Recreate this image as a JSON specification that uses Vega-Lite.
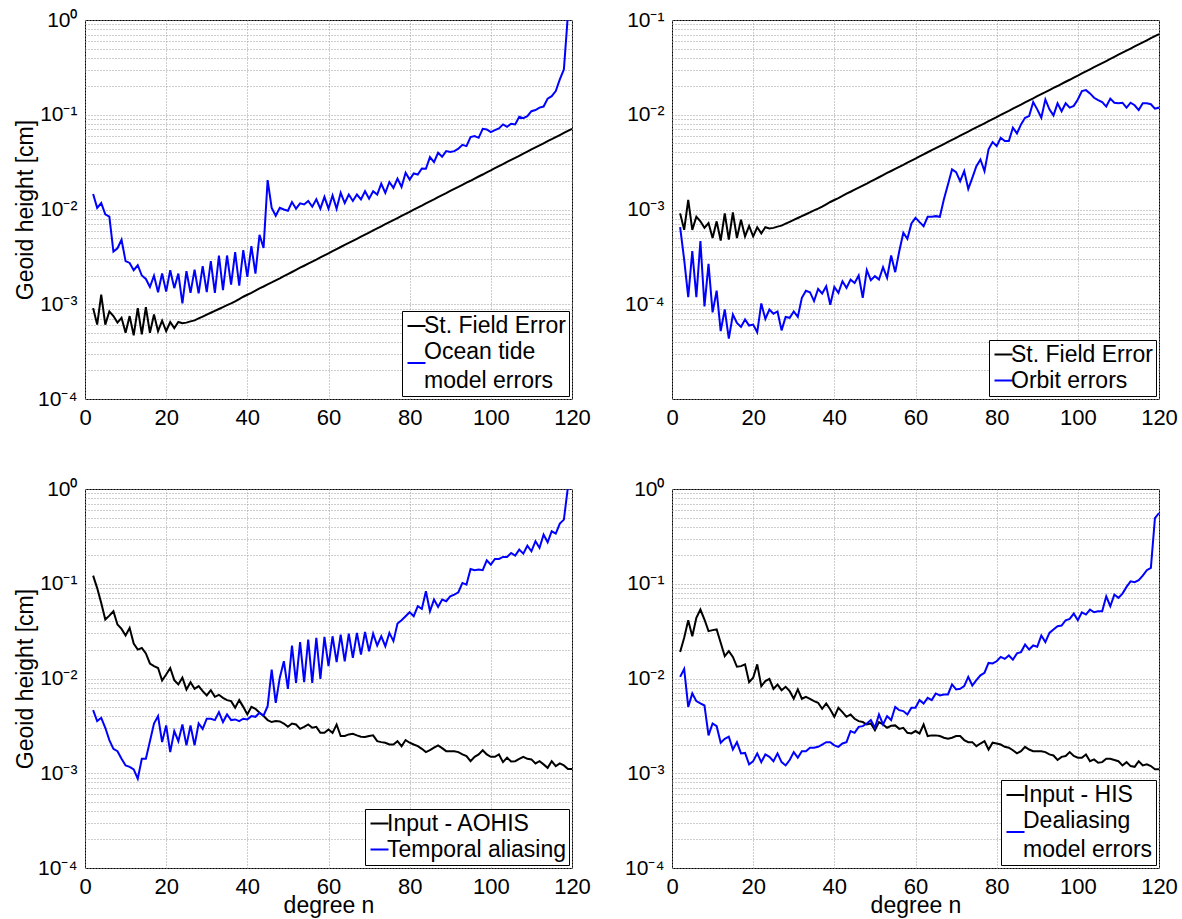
{
  "$schema": "https://vega.github.io/schema/vega-lite/v6.json",
  "padding": {"left": 14, "top": 8, "right": 0, "bottom": 0},
  "bounds": "flush",
  "columns": 2,
  "spacing": {"row": 90, "column": 100},
  "datasets": {
    "p1": [
      {"n":2,"k":9.1e-4,"b":1.46e-2},{"n":3,"k":6.1e-4,"b":1.04e-2},{"n":4,"k":1.26e-3,"b":1.17e-2},{"n":5,"k":6.1e-4,"b":8.9e-3},{"n":6,"k":8.4e-4,"b":8.4e-3},
      {"n":7,"k":7.5e-4,"b":3.6e-3},{"n":8,"k":6.4e-4,"b":3.9e-3},{"n":9,"k":7.2e-4,"b":4.8e-3},{"n":10,"k":5.0e-4,"b":2.85e-3},{"n":11,"k":7.5e-4,"b":2.73e-3},
      {"n":12,"k":4.7e-4,"b":2.29e-3},{"n":13,"k":9.1e-4,"b":2.58e-3},{"n":14,"k":4.8e-4,"b":2.01e-3},{"n":15,"k":9.3e-4,"b":1.85e-3},{"n":16,"k":5.0e-4,"b":1.52e-3},
      {"n":17,"k":7.8e-4,"b":2.0e-3},{"n":18,"k":5.2e-4,"b":1.34e-3},{"n":19,"k":6.7e-4,"b":2.11e-3},{"n":20,"k":5.2e-4,"b":1.36e-3},{"n":21,"k":6.5e-4,"b":2.29e-3},
      {"n":22,"k":5.6e-4,"b":1.48e-3},{"n":23,"k":6.5e-4,"b":2.11e-3},{"n":24,"k":6.3e-4,"b":1.02e-3},{"n":25,"k":6.4e-4,"b":2.24e-3},{"n":26,"k":6.6e-4,"b":1.32e-3},
      {"n":27,"k":6.76e-4,"b":2.32e-3},{"n":28,"k":7.08e-4,"b":1.30e-3},{"n":29,"k":7.41e-4,"b":2.52e-3},{"n":30,"k":7.76e-4,"b":1.34e-3},{"n":31,"k":8.13e-4,"b":2.85e-3},
      {"n":32,"k":8.51e-4,"b":1.32e-3},{"n":33,"k":8.91e-4,"b":3.27e-3},{"n":34,"k":9.33e-4,"b":1.41e-3},{"n":35,"k":9.77e-4,"b":3.27e-3},{"n":36,"k":1.02e-3,"b":1.61e-3},
      {"n":37,"k":1.07e-3,"b":3.54e-3},{"n":38,"k":1.135e-3,"b":1.57e-3},{"n":39,"k":1.20e-3,"b":3.72e-3},{"n":40,"k":1.26e-3,"b":1.95e-3},{"n":41,"k":1.32e-3,"b":4.10e-3},
      {"n":42,"k":1.39e-3,"b":2.11e-3},{"n":43,"k":1.47e-3,"b":5.40e-3},{"n":44,"k":1.54e-3,"b":3.94e-3},{"n":45,"k":1.62e-3,"b":2.04e-2},{"n":46,"k":1.70e-3,"b":1.04e-2},
      {"n":47,"k":1.79e-3,"b":8.6e-3},{"n":48,"k":1.88e-3,"b":1.04e-2},{"n":49,"k":1.98e-3,"b":1.0e-2},{"n":50,"k":2.08e-3,"b":9.7e-3},{"n":51,"k":2.19e-3,"b":1.20e-2},
      {"n":52,"k":2.31e-3,"b":1.02e-2},{"n":53,"k":2.43e-3,"b":1.16e-2},{"n":54,"k":2.55e-3,"b":1.13e-2},{"n":55,"k":2.68e-3,"b":1.23e-2},{"n":56,"k":2.82e-3,"b":1.07e-2},
      {"n":57,"k":2.96e-3,"b":1.28e-2},{"n":58,"k":3.12e-3,"b":1.02e-2},{"n":59,"k":3.28e-3,"b":1.36e-2},{"n":60,"k":3.45e-3,"b":1.02e-2},{"n":61,"k":3.63e-3,"b":1.41e-2},
      {"n":62,"k":3.82e-3,"b":1.02e-2},{"n":63,"k":4.02e-3,"b":1.50e-2},{"n":64,"k":4.23e-3,"b":1.17e-2},{"n":65,"k":4.44e-3,"b":1.44e-2},{"n":66,"k":4.67e-3,"b":1.23e-2},
      {"n":67,"k":4.91e-3,"b":1.44e-2},{"n":68,"k":5.16e-3,"b":1.28e-2},{"n":69,"k":5.43e-3,"b":1.56e-2},{"n":70,"k":5.71e-3,"b":1.30e-2},{"n":71,"k":6.01e-3,"b":1.56e-2},
      {"n":72,"k":6.32e-3,"b":1.44e-2},{"n":73,"k":6.65e-3,"b":1.87e-2},{"n":74,"k":7.00e-3,"b":1.50e-2},{"n":75,"k":7.35e-3,"b":1.95e-2},{"n":76,"k":7.73e-3,"b":1.69e-2},
      {"n":77,"k":8.13e-3,"b":2.12e-2},{"n":78,"k":8.55e-3,"b":1.73e-2},{"n":79,"k":8.99e-3,"b":2.44e-2},{"n":80,"k":9.46e-3,"b":2.07e-2},{"n":81,"k":9.95e-3,"b":2.40e-2},
      {"n":82,"k":1.047e-2,"b":2.34e-2},{"n":83,"k":1.10e-2,"b":2.71e-2},{"n":84,"k":1.16e-2,"b":2.69e-2},{"n":85,"k":1.22e-2,"b":3.57e-2},{"n":86,"k":1.28e-2,"b":3.16e-2},
      {"n":87,"k":1.35e-2,"b":3.97e-2},{"n":88,"k":1.42e-2,"b":3.60e-2},{"n":89,"k":1.49e-2,"b":4.13e-2},{"n":90,"k":1.57e-2,"b":4.04e-2},{"n":91,"k":1.65e-2,"b":4.13e-2},
      {"n":92,"k":1.73e-2,"b":4.38e-2},{"n":93,"k":1.82e-2,"b":4.82e-2},{"n":94,"k":1.92e-2,"b":4.67e-2},{"n":95,"k":2.01e-2,"b":5.81e-2},{"n":96,"k":2.12e-2,"b":5.96e-2},
      {"n":97,"k":2.23e-2,"b":5.71e-2},{"n":98,"k":2.34e-2,"b":7.11e-2},{"n":99,"k":2.47e-2,"b":7.0e-2},{"n":100,"k":2.59e-2,"b":6.56e-2},{"n":101,"k":2.73e-2,"b":6.89e-2},
      {"n":102,"k":2.87e-2,"b":7.18e-2},{"n":103,"k":3.02e-2,"b":7.91e-2},{"n":104,"k":3.18e-2,"b":7.46e-2},{"n":105,"k":3.34e-2,"b":8.04e-2},{"n":106,"k":3.51e-2,"b":7.91e-2},
      {"n":107,"k":3.69e-2,"b":9.53e-2},{"n":108,"k":3.88e-2,"b":9.22e-2},{"n":109,"k":4.08e-2,"b":9.68e-2},{"n":110,"k":4.30e-2,"b":0.109},{"n":111,"k":4.52e-2,"b":0.112},
      {"n":112,"k":4.75e-2,"b":0.119},{"n":113,"k":5.00e-2,"b":0.122},{"n":114,"k":5.26e-2,"b":0.148},{"n":115,"k":5.52e-2,"b":0.157},{"n":116,"k":5.81e-2,"b":0.178},
      {"n":117,"k":6.11e-2,"b":0.236},{"n":118,"k":6.43e-2,"b":0.301},{"n":119,"k":6.76e-2,"b":1.15},{"n":120,"k":7.11e-2,"b":2.5}
    ],
    "p2": [
      {"n":2,"k":9.1e-4,"b":6.5e-4},{"n":3,"k":6.1e-4,"b":2.96e-4},{"n":4,"k":1.26e-3,"b":1.19e-4},{"n":5,"k":6.1e-4,"b":3.63e-4},{"n":6,"k":8.4e-4,"b":1.19e-4},
      {"n":7,"k":7.5e-4,"b":4.63e-4},{"n":8,"k":6.4e-4,"b":9.5e-5},{"n":9,"k":7.2e-4,"b":2.67e-4},{"n":10,"k":5.0e-4,"b":8.2e-5},{"n":11,"k":7.5e-4,"b":1.39e-4},
      {"n":12,"k":4.7e-4,"b":5.2e-5},{"n":13,"k":9.1e-4,"b":8.8e-5},{"n":14,"k":4.8e-4,"b":4.34e-5},{"n":15,"k":9.3e-4,"b":7.8e-5},{"n":16,"k":5.0e-4,"b":6.35e-5},
      {"n":17,"k":7.8e-4,"b":5.77e-5},{"n":18,"k":5.2e-4,"b":6.9e-5},{"n":19,"k":6.7e-4,"b":5.96e-5},{"n":20,"k":5.2e-4,"b":6.1e-5},{"n":21,"k":6.5e-4,"b":5.06e-5},
      {"n":22,"k":5.6e-4,"b":1.02e-4},{"n":23,"k":6.5e-4,"b":7.0e-5},{"n":24,"k":6.3e-4,"b":8.8e-5},{"n":25,"k":6.4e-4,"b":7.96e-5},{"n":26,"k":6.6e-4,"b":8.4e-5},
      {"n":27,"k":6.76e-4,"b":5.3e-5},{"n":28,"k":7.08e-4,"b":7.35e-5},{"n":29,"k":7.41e-4,"b":7.2e-5},{"n":30,"k":7.76e-4,"b":8.4e-5},{"n":31,"k":8.13e-4,"b":7.35e-5},
      {"n":32,"k":8.51e-4,"b":1.17e-4},{"n":33,"k":8.91e-4,"b":1.39e-4},{"n":34,"k":9.33e-4,"b":1.34e-4},{"n":35,"k":9.77e-4,"b":1.08e-4},{"n":36,"k":1.02e-3,"b":1.45e-4},
      {"n":37,"k":1.07e-3,"b":1.30e-4},{"n":38,"k":1.135e-3,"b":1.55e-4},{"n":39,"k":1.20e-3,"b":9.9e-5},{"n":40,"k":1.26e-3,"b":1.52e-4},{"n":41,"k":1.32e-3,"b":1.32e-4},
      {"n":42,"k":1.39e-3,"b":1.75e-4},{"n":43,"k":1.47e-3,"b":1.49e-4},{"n":44,"k":1.54e-3,"b":1.82e-4},{"n":45,"k":1.62e-3,"b":1.68e-4},{"n":46,"k":1.70e-3,"b":2.01e-4},
      {"n":47,"k":1.79e-3,"b":1.17e-4},{"n":48,"k":1.88e-3,"b":2.29e-4},{"n":49,"k":1.98e-3,"b":1.79e-4},{"n":50,"k":2.08e-3,"b":1.98e-4},{"n":51,"k":2.19e-3,"b":1.82e-4},
      {"n":52,"k":2.31e-3,"b":2.46e-4},{"n":53,"k":2.43e-3,"b":1.90e-4},{"n":54,"k":2.55e-3,"b":3.27e-4},{"n":55,"k":2.68e-3,"b":2.18e-4},{"n":56,"k":2.82e-3,"b":3.63e-4},
      {"n":57,"k":2.96e-3,"b":5.68e-4},{"n":58,"k":3.12e-3,"b":4.9e-4},{"n":59,"k":3.28e-3,"b":7.11e-4},{"n":60,"k":3.45e-3,"b":8.17e-4},{"n":61,"k":3.63e-3,"b":7.35e-4},
      {"n":62,"k":3.82e-3,"b":6.67e-4},{"n":63,"k":4.02e-3,"b":8.37e-4},{"n":64,"k":4.23e-3,"b":8.37e-4},{"n":65,"k":4.44e-3,"b":8.51e-4},{"n":66,"k":4.67e-3,"b":8.37e-4},
      {"n":67,"k":4.91e-3,"b":1.28e-3},{"n":68,"k":5.16e-3,"b":1.84e-3},{"n":69,"k":5.43e-3,"b":2.65e-3},{"n":70,"k":5.71e-3,"b":2.48e-3},{"n":71,"k":6.01e-3,"b":1.99e-3},
      {"n":72,"k":6.32e-3,"b":2.54e-3},{"n":73,"k":6.65e-3,"b":1.65e-3},{"n":74,"k":7.00e-3,"b":2.16e-3},{"n":75,"k":7.35e-3,"b":2.87e-3},{"n":76,"k":7.73e-3,"b":3.37e-3},
      {"n":77,"k":8.13e-3,"b":2.54e-3},{"n":78,"k":8.55e-3,"b":4.31e-3},{"n":79,"k":8.99e-3,"b":5.14e-3},{"n":80,"k":9.46e-3,"b":4.67e-3},{"n":81,"k":9.95e-3,"b":5.71e-3},
      {"n":82,"k":1.047e-2,"b":5.27e-3},{"n":83,"k":1.10e-2,"b":5.27e-3},{"n":84,"k":1.16e-2,"b":7.29e-3},{"n":85,"k":1.22e-2,"b":6.35e-3},{"n":86,"k":1.28e-2,"b":7.91e-3},
      {"n":87,"k":1.35e-2,"b":9.29e-3},{"n":88,"k":1.42e-2,"b":9.68e-3},{"n":89,"k":1.49e-2,"b":1.36e-2},{"n":90,"k":1.57e-2,"b":1.14e-2},{"n":91,"k":1.65e-2,"b":9.29e-3},
      {"n":92,"k":1.73e-2,"b":1.45e-2},{"n":93,"k":1.82e-2,"b":1.14e-2},{"n":94,"k":1.92e-2,"b":9.84e-3},{"n":95,"k":2.01e-2,"b":1.32e-2},{"n":96,"k":2.12e-2,"b":1.09e-2},
      {"n":97,"k":2.23e-2,"b":1.32e-2},{"n":98,"k":2.34e-2,"b":1.19e-2},{"n":99,"k":2.47e-2,"b":1.24e-2},{"n":100,"k":2.59e-2,"b":1.45e-2},{"n":101,"k":2.73e-2,"b":1.78e-2},
      {"n":102,"k":2.87e-2,"b":1.82e-2},{"n":103,"k":3.02e-2,"b":1.68e-2},{"n":104,"k":3.18e-2,"b":1.51e-2},{"n":105,"k":3.34e-2,"b":1.43e-2},{"n":106,"k":3.51e-2,"b":1.36e-2},
      {"n":107,"k":3.69e-2,"b":1.22e-2},{"n":108,"k":3.88e-2,"b":1.48e-2},{"n":109,"k":4.08e-2,"b":1.34e-2},{"n":110,"k":4.30e-2,"b":1.32e-2},{"n":111,"k":4.52e-2,"b":1.34e-2},
      {"n":112,"k":4.75e-2,"b":1.19e-2},{"n":113,"k":5.00e-2,"b":1.34e-2},{"n":114,"k":5.26e-2,"b":1.26e-2},{"n":115,"k":5.52e-2,"b":1.12e-2},{"n":116,"k":5.81e-2,"b":1.32e-2},
      {"n":117,"k":6.11e-2,"b":1.32e-2},{"n":118,"k":6.43e-2,"b":1.29e-2},{"n":119,"k":6.76e-2,"b":1.16e-2},{"n":120,"k":7.11e-2,"b":1.19e-2}
    ],
    "p3": [
      {"n":2,"k":0.122,"b":4.63e-3},{"n":3,"k":9.0e-2,"b":3.55e-3},{"n":4,"k":6.28e-2,"b":3.85e-3},{"n":5,"k":4.19e-2,"b":3.02e-3},{"n":6,"k":4.61e-2,"b":2.24e-3},
      {"n":7,"k":5.13e-2,"b":1.81e-3},{"n":8,"k":3.71e-2,"b":1.71e-3},{"n":9,"k":3.34e-2,"b":1.42e-3},{"n":10,"k":2.84e-2,"b":1.21e-3},{"n":11,"k":3.42e-2,"b":1.17e-3},
      {"n":12,"k":2.34e-2,"b":1.10e-3},{"n":13,"k":2.02e-2,"b":8.75e-4},{"n":14,"k":2.10e-2,"b":1.42e-3},{"n":15,"k":1.84e-2,"b":1.42e-3},{"n":16,"k":1.44e-2,"b":2.18e-3},
      {"n":17,"k":1.35e-2,"b":3.35e-3},{"n":18,"k":1.29e-2,"b":4.01e-3},{"n":19,"k":9.52e-3,"b":2.13e-3},{"n":20,"k":1.10e-2,"b":3.19e-3},{"n":21,"k":1.29e-2,"b":1.67e-3},
      {"n":22,"k":9.6e-3,"b":2.79e-3},{"n":23,"k":8.65e-3,"b":2.18e-3},{"n":24,"k":1.02e-2,"b":3.27e-3},{"n":25,"k":7.66e-3,"b":1.97e-3},{"n":26,"k":9.15e-3,"b":3.19e-3},
      {"n":27,"k":7.78e-3,"b":1.97e-3},{"n":28,"k":8.3e-3,"b":3.35e-3},{"n":29,"k":7.35e-3,"b":2.94e-3},{"n":30,"k":6.62e-3,"b":3.76e-3},{"n":31,"k":7.53e-3,"b":3.76e-3},
      {"n":32,"k":6.41e-3,"b":3.64e-3},{"n":33,"k":6.73e-3,"b":4.42e-3},{"n":34,"k":6.25e-3,"b":3.47e-3},{"n":35,"k":5.91e-3,"b":4.17e-3},{"n":36,"k":5.77e-3,"b":3.64e-3},
      {"n":37,"k":4.91e-3,"b":3.70e-3},{"n":38,"k":5.91e-3,"b":3.55e-3},{"n":39,"k":5.02e-3,"b":3.76e-3},{"n":40,"k":4.17e-3,"b":3.70e-3},{"n":41,"k":5.02e-3,"b":4.01e-3},
      {"n":42,"k":4.79e-3,"b":3.94e-3},{"n":43,"k":4.35e-3,"b":4.35e-3},{"n":44,"k":4.01e-3,"b":4.07e-3},{"n":45,"k":3.64e-3,"b":5.11e-3},{"n":46,"k":3.47e-3,"b":1.24e-2},
      {"n":47,"k":3.55e-3,"b":5.54e-3},{"n":48,"k":3.52e-3,"b":1.02e-2},{"n":49,"k":3.35e-3,"b":1.52e-2},{"n":50,"k":3.09e-3,"b":7.78e-3},{"n":51,"k":3.35e-3,"b":2.23e-2},
      {"n":52,"k":3.27e-3,"b":9.0e-3},{"n":53,"k":2.94e-3,"b":2.42e-2},{"n":54,"k":3.09e-3,"b":9.15e-3},{"n":55,"k":3.27e-3,"b":2.58e-2},{"n":56,"k":3.02e-3,"b":9.0e-3},
      {"n":57,"k":3.09e-3,"b":2.69e-2},{"n":58,"k":2.67e-3,"b":9.9e-3},{"n":59,"k":2.67e-3,"b":2.75e-2},{"n":60,"k":2.90e-3,"b":1.35e-2},{"n":61,"k":2.67e-3,"b":2.79e-2},
      {"n":62,"k":3.27e-3,"b":1.49e-2},{"n":63,"k":2.47e-3,"b":2.91e-2},{"n":64,"k":2.47e-3,"b":1.52e-2},{"n":65,"k":2.57e-3,"b":2.98e-2},{"n":66,"k":2.61e-3,"b":1.65e-2},
      {"n":67,"k":2.51e-3,"b":3.03e-2},{"n":68,"k":2.43e-3,"b":1.79e-2},{"n":69,"k":2.41e-3,"b":3.10e-2},{"n":70,"k":2.47e-3,"b":1.94e-2},{"n":71,"k":2.51e-3,"b":2.98e-2},
      {"n":72,"k":2.18e-3,"b":2.23e-2},{"n":73,"k":2.13e-3,"b":2.79e-2},{"n":74,"k":2.10e-3,"b":2.19e-2},{"n":75,"k":2.01e-3,"b":3.03e-2},{"n":76,"k":2.01e-3,"b":2.48e-2},
      {"n":77,"k":2.18e-3,"b":3.80e-2},{"n":78,"k":1.93e-3,"b":4.12e-2},{"n":79,"k":2.24e-3,"b":4.54e-2},{"n":80,"k":2.10e-3,"b":5.00e-2},{"n":81,"k":2.01e-3,"b":4.54e-2},
      {"n":82,"k":1.93e-3,"b":5.79e-2},{"n":83,"k":1.81e-3,"b":5.43e-2},{"n":84,"k":1.67e-3,"b":8.33e-2},{"n":85,"k":1.75e-3,"b":5.13e-2},{"n":86,"k":1.86e-3,"b":6.81e-2},
      {"n":87,"k":1.97e-3,"b":5.70e-2},{"n":88,"k":1.84e-3,"b":6.81e-2},{"n":89,"k":1.71e-3,"b":6.54e-2},{"n":90,"k":1.71e-3,"b":7.38e-2},{"n":91,"k":1.71e-3,"b":7.69e-2},
      {"n":92,"k":1.67e-3,"b":8.13e-2},{"n":93,"k":1.58e-3,"b":0.102},{"n":94,"k":1.52e-3,"b":9.8e-2},{"n":95,"k":1.34e-3,"b":0.143},{"n":96,"k":1.49e-3,"b":0.139},
      {"n":97,"k":1.58e-3,"b":0.141},{"n":98,"k":1.75e-3,"b":0.139},{"n":99,"k":1.58e-3,"b":0.177},{"n":100,"k":1.49e-3,"b":0.159},{"n":101,"k":1.49e-3,"b":0.183},
      {"n":102,"k":1.58e-3,"b":0.183},{"n":103,"k":1.31e-3,"b":0.192},{"n":104,"k":1.46e-3,"b":0.192},{"n":105,"k":1.33e-3,"b":0.211},{"n":106,"k":1.34e-3,"b":0.198},
      {"n":107,"k":1.42e-3,"b":0.229},{"n":108,"k":1.49e-3,"b":0.208},{"n":109,"k":1.42e-3,"b":0.252},{"n":110,"k":1.40e-3,"b":0.220},{"n":111,"k":1.27e-3,"b":0.281},
      {"n":112,"k":1.34e-3,"b":0.239},{"n":113,"k":1.24e-3,"b":0.330},{"n":114,"k":1.14e-3,"b":0.274},{"n":115,"k":1.34e-3,"b":0.358},{"n":116,"k":1.19e-3,"b":0.338},
      {"n":117,"k":1.27e-3,"b":0.431},{"n":118,"k":1.21e-3,"b":0.475},{"n":119,"k":1.11e-3,"b":1.05},{"n":120,"k":1.11e-3,"b":2.5}
    ],
    "p4": [
      {"n":2,"k":1.90e-2,"b":1.04e-2},{"n":3,"k":2.69e-2,"b":1.26e-2},{"n":4,"k":4.12e-2,"b":5.02e-3},{"n":5,"k":2.79e-2,"b":6.95e-3},{"n":6,"k":4.36e-2,"b":5.77e-3},
      {"n":7,"k":5.34e-2,"b":5.45e-3},{"n":8,"k":4.19e-2,"b":5.19e-3},{"n":9,"k":3.16e-2,"b":2.51e-3},{"n":10,"k":3.24e-2,"b":3.35e-3},{"n":11,"k":3.29e-2,"b":3.14e-3},
      {"n":12,"k":2.38e-2,"b":2.10e-3},{"n":13,"k":1.72e-2,"b":2.31e-3},{"n":14,"k":1.94e-2,"b":2.43e-3},{"n":15,"k":1.69e-2,"b":1.78e-3},{"n":16,"k":1.33e-2,"b":2.13e-3},
      {"n":17,"k":1.35e-2,"b":1.62e-3},{"n":18,"k":1.41e-2,"b":1.64e-3},{"n":19,"k":9.15e-3,"b":1.24e-3},{"n":20,"k":1.02e-2,"b":1.34e-3},{"n":21,"k":1.41e-2,"b":1.62e-3},
      {"n":22,"k":8.3e-3,"b":1.31e-3},{"n":23,"k":9.38e-3,"b":1.58e-3},{"n":24,"k":9.9e-3,"b":1.49e-3},{"n":25,"k":7.78e-3,"b":1.34e-3},{"n":26,"k":8.65e-3,"b":1.62e-3},
      {"n":27,"k":7.53e-3,"b":1.31e-3},{"n":28,"k":8.17e-3,"b":1.21e-3},{"n":29,"k":7.35e-3,"b":1.38e-3},{"n":30,"k":6.11e-3,"b":1.67e-3},{"n":31,"k":7.66e-3,"b":1.46e-3},
      {"n":32,"k":6.11e-3,"b":1.71e-3},{"n":33,"k":6.41e-3,"b":1.71e-3},{"n":34,"k":6.11e-3,"b":1.86e-3},{"n":35,"k":5.77e-3,"b":1.86e-3},{"n":36,"k":5.54e-3,"b":1.90e-3},
      {"n":37,"k":4.79e-3,"b":2.01e-3},{"n":38,"k":5.45e-3,"b":2.13e-3},{"n":39,"k":4.71e-3,"b":2.13e-3},{"n":40,"k":3.94e-3,"b":1.97e-3},{"n":41,"k":4.91e-3,"b":1.90e-3},
      {"n":42,"k":4.42e-3,"b":2.06e-3},{"n":43,"k":3.94e-3,"b":2.13e-3},{"n":44,"k":4.17e-3,"b":2.79e-3},{"n":45,"k":3.76e-3,"b":2.67e-3},{"n":46,"k":3.55e-3,"b":3.09e-3},
      {"n":47,"k":3.47e-3,"b":3.14e-3},{"n":48,"k":3.27e-3,"b":3.35e-3},{"n":49,"k":3.35e-3,"b":3.64e-3},{"n":50,"k":2.85e-3,"b":3.02e-3},{"n":51,"k":3.47e-3,"b":4.17e-3},
      {"n":52,"k":3.27e-3,"b":3.27e-3},{"n":53,"k":3.02e-3,"b":4.01e-3},{"n":54,"k":3.17e-3,"b":3.64e-3},{"n":55,"k":3.2e-3,"b":5.02e-3},{"n":56,"k":2.94e-3,"b":4.63e-3},
      {"n":57,"k":3.02e-3,"b":4.53e-3},{"n":58,"k":2.67e-3,"b":4.17e-3},{"n":59,"k":2.63e-3,"b":4.91e-3},{"n":60,"k":2.79e-3,"b":4.91e-3},{"n":61,"k":2.63e-3,"b":5.91e-3},
      {"n":62,"k":3.27e-3,"b":5.45e-3},{"n":63,"k":2.47e-3,"b":6.25e-3},{"n":64,"k":2.51e-3,"b":5.91e-3},{"n":65,"k":2.51e-3,"b":6.95e-3},{"n":66,"k":2.47e-3,"b":6.62e-3},
      {"n":67,"k":2.37e-3,"b":6.78e-3},{"n":68,"k":2.31e-3,"b":6.78e-3},{"n":69,"k":2.37e-3,"b":8.65e-3},{"n":70,"k":2.47e-3,"b":7.66e-3},{"n":71,"k":2.47e-3,"b":7.78e-3},
      {"n":72,"k":2.24e-3,"b":8.3e-3},{"n":73,"k":2.13e-3,"b":1.04e-2},{"n":74,"k":2.13e-3,"b":8.43e-3},{"n":75,"k":1.93e-3,"b":9.6e-3},{"n":76,"k":2.06e-3,"b":1.08e-2},
      {"n":77,"k":2.18e-3,"b":1.15e-2},{"n":78,"k":1.78e-3,"b":1.46e-2},{"n":79,"k":2.10e-3,"b":1.44e-2},{"n":80,"k":2.06e-3,"b":1.52e-2},{"n":81,"k":2.01e-3,"b":1.69e-2},
      {"n":82,"k":1.90e-3,"b":1.61e-2},{"n":83,"k":1.86e-3,"b":1.75e-2},{"n":84,"k":1.75e-3,"b":1.58e-2},{"n":85,"k":1.62e-3,"b":1.84e-2},{"n":86,"k":1.71e-3,"b":1.90e-2},
      {"n":87,"k":1.90e-3,"b":2.28e-2},{"n":88,"k":1.78e-3,"b":2.02e-2},{"n":89,"k":1.71e-3,"b":2.23e-2},{"n":90,"k":1.71e-3,"b":2.16e-2},{"n":91,"k":1.71e-3,"b":2.84e-2},
      {"n":92,"k":1.67e-3,"b":2.42e-2},{"n":93,"k":1.58e-3,"b":3.03e-2},{"n":94,"k":1.54e-3,"b":3.29e-2},{"n":95,"k":1.38e-3,"b":3.56e-2},{"n":96,"k":1.49e-3,"b":3.62e-2},
      {"n":97,"k":1.52e-3,"b":4.12e-2},{"n":98,"k":1.67e-3,"b":4.26e-2},{"n":99,"k":1.52e-3,"b":4.84e-2},{"n":100,"k":1.46e-3,"b":4.12e-2},{"n":101,"k":1.46e-3,"b":5.0e-2},
      {"n":102,"k":1.58e-3,"b":4.73e-2},{"n":103,"k":1.34e-3,"b":5.34e-2},{"n":104,"k":1.40e-3,"b":5.0e-2},{"n":105,"k":1.29e-3,"b":5.13e-2},{"n":106,"k":1.31e-3,"b":5.13e-2},
      {"n":107,"k":1.42e-3,"b":7.38e-2},{"n":108,"k":1.42e-3,"b":5.79e-2},{"n":109,"k":1.38e-3,"b":7.69e-2},{"n":110,"k":1.34e-3,"b":7.1e-2},{"n":111,"k":1.21e-3,"b":7.87e-2},
      {"n":112,"k":1.31e-3,"b":9.27e-2},{"n":113,"k":1.19e-3,"b":0.106},{"n":114,"k":1.17e-3,"b":0.104},{"n":115,"k":1.34e-3,"b":0.109},{"n":116,"k":1.21e-3,"b":0.122},
      {"n":117,"k":1.24e-3,"b":0.139},{"n":118,"k":1.19e-3,"b":0.147},{"n":119,"k":1.10e-3,"b":0.494},{"n":120,"k":1.10e-3,"b":0.558}
    ]
  },
  "concat": [
    {
      "width": 487, "height": 379,
      "data": {"name": "p1"},
      "transform": [{"fold": ["k", "b"], "as": ["s", "v"]}],
      "mark": {"type": "line", "strokeWidth": 2, "clip": true},
      "encoding": {
        "x": {"field": "n", "type": "quantitative", "scale": {"domain": [0, 120], "nice": false}, "axis": {"values": [0, 20, 40, 60, 80, 100, 120], "title": null}},
        "y": {"field": "v", "type": "quantitative", "scale": {"type": "log", "domain": [1e-4, 1], "nice": false},
          "axis": {"title": "Geoid height [cm]",
            "values": [1e-4,2e-4,3e-4,4e-4,5e-4,6e-4,7e-4,8e-4,9e-4,1e-3,2e-3,3e-3,4e-3,5e-3,6e-3,7e-3,8e-3,9e-3,1e-2,2e-2,3e-2,4e-2,5e-2,6e-2,7e-2,8e-2,9e-2,0.1,0.2,0.3,0.4,0.5,0.6,0.7,0.8,0.9,1],
            "labelExpr": "abs(log(datum.value)/LN10 - round(log(datum.value)/LN10)) > 0.001 ? '' : round(log(datum.value)/LN10) == 0 ? '10⁰' : round(log(datum.value)/LN10) == -1 ? '10⁻¹' : round(log(datum.value)/LN10) == -2 ? '10⁻²' : round(log(datum.value)/LN10) == -3 ? '10⁻³' : round(log(datum.value)/LN10) == -4 ? '10⁻⁴' : ''"}},
        "color": {"field": "s", "type": "nominal", "scale": {"domain": ["k", "b", "m"], "range": ["#000000", "#0000ff", "#ffffff"]},
          "legend": {"title": null,
            "labelExpr": "datum.label == 'k' ? 'St. Field Error' : datum.label == 'b' ? 'Ocean tide' : 'model errors'",
            "encode": {"symbols": {"update": {"y": {"signal": "datum.value == 'b' ? 23 : 12"}}}}}}
      }
    },
    {
      "width": 487, "height": 379,
      "data": {"name": "p2"},
      "transform": [{"fold": ["k", "b"], "as": ["s", "v"]}],
      "mark": {"type": "line", "strokeWidth": 2, "clip": true},
      "encoding": {
        "x": {"field": "n", "type": "quantitative", "scale": {"domain": [0, 120], "nice": false}, "axis": {"values": [0, 20, 40, 60, 80, 100, 120], "title": null}},
        "y": {"field": "v", "type": "quantitative", "scale": {"type": "log", "domain": [1e-5, 0.1], "nice": false},
          "axis": {"title": null,
            "values": [1e-5,2e-5,3e-5,4e-5,5e-5,6e-5,7e-5,8e-5,9e-5,1e-4,2e-4,3e-4,4e-4,5e-4,6e-4,7e-4,8e-4,9e-4,1e-3,2e-3,3e-3,4e-3,5e-3,6e-3,7e-3,8e-3,9e-3,1e-2,2e-2,3e-2,4e-2,5e-2,6e-2,7e-2,8e-2,9e-2,0.1],
            "labelExpr": "abs(log(datum.value)/LN10 - round(log(datum.value)/LN10)) > 0.001 ? '' : round(log(datum.value)/LN10) == -1 ? '10⁻¹' : round(log(datum.value)/LN10) == -2 ? '10⁻²' : round(log(datum.value)/LN10) == -3 ? '10⁻³' : round(log(datum.value)/LN10) == -4 ? '10⁻⁴' : ''"}},
        "color": {"field": "s", "type": "nominal", "scale": {"domain": ["k", "b"], "range": ["#000000", "#0000ff"]},
          "legend": {"title": null, "labelExpr": "datum.label == 'k' ? 'St. Field Error' : 'Orbit errors'"}}
      }
    },
    {
      "width": 487, "height": 379,
      "data": {"name": "p3"},
      "transform": [{"fold": ["k", "b"], "as": ["s", "v"]}],
      "mark": {"type": "line", "strokeWidth": 2, "clip": true},
      "encoding": {
        "x": {"field": "n", "type": "quantitative", "scale": {"domain": [0, 120], "nice": false}, "axis": {"values": [0, 20, 40, 60, 80, 100, 120], "title": "degree n"}},
        "y": {"field": "v", "type": "quantitative", "scale": {"type": "log", "domain": [1e-4, 1], "nice": false},
          "axis": {"title": "Geoid height [cm]",
            "values": [1e-4,2e-4,3e-4,4e-4,5e-4,6e-4,7e-4,8e-4,9e-4,1e-3,2e-3,3e-3,4e-3,5e-3,6e-3,7e-3,8e-3,9e-3,1e-2,2e-2,3e-2,4e-2,5e-2,6e-2,7e-2,8e-2,9e-2,0.1,0.2,0.3,0.4,0.5,0.6,0.7,0.8,0.9,1],
            "labelExpr": "abs(log(datum.value)/LN10 - round(log(datum.value)/LN10)) > 0.001 ? '' : round(log(datum.value)/LN10) == 0 ? '10⁰' : round(log(datum.value)/LN10) == -1 ? '10⁻¹' : round(log(datum.value)/LN10) == -2 ? '10⁻²' : round(log(datum.value)/LN10) == -3 ? '10⁻³' : round(log(datum.value)/LN10) == -4 ? '10⁻⁴' : ''"}},
        "color": {"field": "s", "type": "nominal", "scale": {"domain": ["k", "b"], "range": ["#000000", "#0000ff"]},
          "legend": {"title": null, "labelExpr": "datum.label == 'k' ? 'Input - AOHIS' : 'Temporal aliasing'"}}
      }
    },
    {
      "width": 487, "height": 379,
      "data": {"name": "p4"},
      "transform": [{"fold": ["k", "b"], "as": ["s", "v"]}],
      "mark": {"type": "line", "strokeWidth": 2, "clip": true},
      "encoding": {
        "x": {"field": "n", "type": "quantitative", "scale": {"domain": [0, 120], "nice": false}, "axis": {"values": [0, 20, 40, 60, 80, 100, 120], "title": "degree n"}},
        "y": {"field": "v", "type": "quantitative", "scale": {"type": "log", "domain": [1e-4, 1], "nice": false},
          "axis": {"title": null,
            "values": [1e-4,2e-4,3e-4,4e-4,5e-4,6e-4,7e-4,8e-4,9e-4,1e-3,2e-3,3e-3,4e-3,5e-3,6e-3,7e-3,8e-3,9e-3,1e-2,2e-2,3e-2,4e-2,5e-2,6e-2,7e-2,8e-2,9e-2,0.1,0.2,0.3,0.4,0.5,0.6,0.7,0.8,0.9,1],
            "labelExpr": "abs(log(datum.value)/LN10 - round(log(datum.value)/LN10)) > 0.001 ? '' : round(log(datum.value)/LN10) == 0 ? '10⁰' : round(log(datum.value)/LN10) == -1 ? '10⁻¹' : round(log(datum.value)/LN10) == -2 ? '10⁻²' : round(log(datum.value)/LN10) == -3 ? '10⁻³' : round(log(datum.value)/LN10) == -4 ? '10⁻⁴' : ''"}},
        "color": {"field": "s", "type": "nominal", "scale": {"domain": ["k", "b", "m"], "range": ["#000000", "#0000ff", "#ffffff"]},
          "legend": {"title": null,
            "labelExpr": "datum.label == 'k' ? 'Input - HIS' : datum.label == 'b' ? 'Dealiasing' : 'model errors'",
            "encode": {"symbols": {"update": {"y": {"signal": "datum.value == 'b' ? 23 : 12"}}}}}}
      }
    }
  ],
  "resolve": {"scale": {"color": "independent", "x": "independent", "y": "independent"}, "legend": {"color": "independent"}},
  "config": {
    "font": "Liberation Sans",
    "background": "#ffffff",
    "view": {"stroke": "#000000", "strokeWidth": 1},
    "axis": {
      "domain": false,
      "ticks": false,
      "grid": true,
      "gridColor": "#9a9a9a",
      "gridDash": [1, 2],
      "gridWidth": 1,
      "labelFontSize": 22,
      "labelColor": "#000000",
      "labelPadding": 8,
      "labelFlush": false,
      "labelOverlap": false,
      "titleFontSize": 23,
      "titleFontWeight": "normal",
      "titleColor": "#000000"
    },
    "axisX": {"titlePadding": -3},
    "axisY": {"labelFontSize": 21, "titlePadding": 0},
    "legend": {
      "orient": "bottom-right",
      "offset": 3,
      "strokeColor": "#000000",
      "fillColor": "#ffffff",
      "padding": 3,
      "labelFontSize": 23,
      "labelColor": "#000000",
      "labelOffset": -4,
      "labelLimit": 400,
      "symbolType": "stroke",
      "symbolStrokeWidth": 2,
      "symbolSize": 324,
      "rowPadding": 2
    }
  }
}
